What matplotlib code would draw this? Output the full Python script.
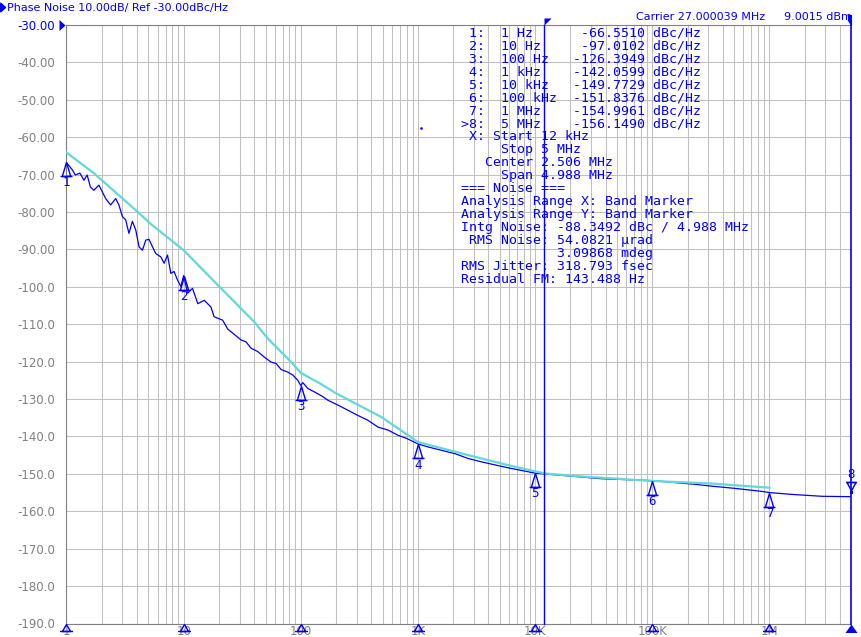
import matplotlib
matplotlib.use("Agg")
import matplotlib.pyplot as plt
from matplotlib.path import Path
from matplotlib.patches import Polygon
from matplotlib.ticker import FixedLocator, LogLocator, NullFormatter

trace_freq = [1.0, 1.12, 1.19, 1.30, 1.41, 1.50, 1.60, 1.71, 1.89, 2.16, 2.38, 2.63, 2.80,
              3.00, 3.20, 3.41, 3.65, 3.90, 4.16, 4.45, 4.75, 5.06, 5.42, 5.78, 6.38, 6.81,
              7.28, 7.77, 8.28, 8.87, 9.46, 10.0, 10.8, 11.9, 13.2, 15.0, 17.1, 18.2, 21.5,
              23.8, 27.0, 30.9, 34.0, 37.6, 42.9, 48.8, 55.7, 61.5, 67.9, 77.4, 85.5, 94.3,
              100, 104, 115, 131, 155, 170, 207, 253, 308, 375, 456, 556, 677, 798, 1000,
              1220, 1590, 2070, 2690, 3500, 4540, 5920, 7690, 10e3, 16.9e3, 37.2e3, 100e3,
              234e3, 325e3, 515e3, 871e3, 1.0e6, 1.57e6, 2.84e6, 5e6]
trace_dbc = [-66.8, -68.7, -70.1, -69.6, -71.5, -70.1, -73.3, -74.2, -72.8, -76.4, -78.1, -76.4, -78.1,
             -81.2, -82.1, -85.7, -82.5, -84.8, -89.3, -90.2, -87.5, -87.3, -89.3, -91.1, -92.0, -93.7,
             -91.5, -96.4, -95.9, -98.2, -99.9, -97.0, -101.7, -100.4, -104.5, -103.6, -105.4, -108.0, -108.9,
             -111.3, -112.7, -114.2, -114.7, -116.4, -117.3, -118.8, -120.1, -120.5, -122.1, -122.8, -123.6, -125.0,
             -126.4, -125.6, -127.2, -128.1, -129.4, -130.3, -131.6, -133.0, -134.4, -135.7, -137.5, -138.3, -139.7, -140.5, -142.0,
             -142.8, -143.7, -144.6, -145.9, -146.8, -147.6, -148.4, -149.1, -149.8, -150.4, -151.3, -151.8,
             -152.8, -153.3, -153.9, -154.7, -155.0, -155.5, -156.0, -156.1]

# smoothed reference trace (cyan)
smooth_freq = [1, 1.71, 4.03, 5.24, 10, 20.1, 40.1, 52.2, 82.7, 100, 149, 201, 487, 1000,
               2690, 6700, 12.1e3, 25.1e3, 100e3, 325e3, 1e6]
smooth_dbc = [-64.1, -69.6, -79.9, -83.2, -90.2, -99.9, -109.4, -113.8, -120.1, -123.0, -126.0,
              -128.5, -134.8, -141.5, -145.0, -148.1, -149.9, -150.7, -151.9, -152.6, -153.7]

marker_freq = [1, 10, 100, 1e3, 10e3, 100e3, 1e6, 5e6]
marker_dbc = [-66.5510, -97.0102, -126.3949, -142.0599, -149.7729, -151.8376, -154.9961, -156.1490]
marker_names = ['1 Hz', '10 Hz', '100 Hz', '1 kHz', '10 kHz', '100 kHz', '1 MHz', '5 MHz']
active_marker = 8

band_start = 12e3
band_stop = 5e6

y_ticks = list(range(-30, -191, -10))
y_labels = ['-30.00', '-40.00', '-50.00', '-60.00', '-70.00', '-80.00', '-90.00', '-100.0',
            '-110.0', '-120.0', '-130.0', '-140.0', '-150.0', '-160.0', '-170.0', '-180.0', '-190.0']
x_ticks = [1, 10, 100, 1e3, 10e3, 100e3, 1e6]
x_labels = ['1', '10', '100', '1K', '10K', '100K', '1M']

info_lines = [
    ' X: Start 12 kHz',
    '     Stop 5 MHz',
    '   Center 2.506 MHz',
    '     Span 4.988 MHz',
    '=== Noise ===',
    'Analysis Range X: Band Marker',
    'Analysis Range Y: Band Marker',
    'Intg Noise: -88.3492 dBc / 4.988 MHz',
    ' RMS Noise: 54.0821 \u00b5rad',
    '            3.09868 mdeg',
    'RMS Jitter: 318.793 fsec',
    'Residual FM: 143.488 Hz',
]

W, H = 862, 637
BLUE = '#0000ff'
GRAY = '#808080'
CYAN = '#5fd9d9'
MONO = 'DejaVu Sans Mono'


def fx(x):
    return x / W


def fy(y):
    return 1 - y / H


def px_marker(verts, codes=None):
    # marker path given in pixel units around the data point
    m = max(max(abs(a), abs(b)) for a, b in verts)
    return Path(verts, codes), 2 * m * 72 / 100


M, L = Path.MOVETO, Path.LINETO
tri_up, tri_ms = px_marker([(0, 0), (-4.2, -14), (4.2, -14), (0, 0), (-6, -14), (6, -14)],
                           [M, L, L, L, M, L])
tri_axis, tri_axis_ms = px_marker([(0, 0), (-4, -7), (4, -7), (0, 0), (-6.5, -7), (6.5, -7)],
                                  [M, L, L, L, M, L])
tri_down, tri_down_ms = px_marker([(0, 6.5), (-4.5, 15), (4.5, 15), (0, 6.5), (-5.5, 15), (5.5, 15)],
                                  [M, L, L, L, M, L])
act_sq, act_sq_ms = px_marker([(-1.5, 2.7), (1.5, 2.7), (1.5, 5.7), (-1.5, 5.7), (-1.5, 2.7)])
act_axis, act_axis_ms = px_marker([(0, 0), (-6, -8.5), (6, -8.5), (0, 0)])
flag_l, flag_l_ms = px_marker([(0, 0), (0, 7), (7, 7), (0, 0)])
flag_r, flag_r_ms = px_marker([(0, 0), (0, 10), (-3, 10), (-3, 5), (0, 0)])
ref_tri, ref_tri_ms = px_marker([(-7, 5.5), (-7, -5.5), (-1, 0), (-7, 5.5)])

fig = plt.figure(figsize=(W / 100, H / 100), dpi=100)
ax = fig.add_axes([fx(66.5), fy(623.5), (851.3 - 66.5) / W, (623.5 - 25) / H])
ax.set_xscale('log')
ax.set_xlim(1, 5e6)
ax.set_ylim(-190, -30)

ax.xaxis.set_major_locator(FixedLocator(x_ticks))
ax.xaxis.set_minor_locator(LogLocator(base=10, subs=range(2, 10), numticks=20))
ax.xaxis.set_minor_formatter(NullFormatter())
ax.set_xticklabels(x_labels)
ax.set_yticks(y_ticks)
ax.set_yticklabels(y_labels)
ax.tick_params(which='both', length=0)
ax.tick_params(axis='x', pad=1, labelcolor=GRAY, labelsize=8.5)
ax.tick_params(axis='y', pad=8, labelcolor=GRAY, labelsize=8.5)
ax.get_yticklabels()[0].set_color(BLUE)
ax.grid(which='both', color='#c0c0c0', lw=0.75)
ax.set_axisbelow(True)
for s in ['left', 'bottom', 'top']:
    ax.spines[s].set_color(GRAY)
    ax.spines[s].set_linewidth(0.8)
ax.spines['right'].set_visible(False)

# traces
ax.plot(trace_freq, trace_dbc, color=BLUE, lw=0.9, zorder=3)
ax.plot(smooth_freq, smooth_dbc, color=CYAN, lw=1.6, zorder=4)
ax.plot([1065], [-57.5], 's', color=BLUE, ms=0.8, zorder=3)

# band markers
ax.plot([band_start, band_start], [-190, -30], color=BLUE, lw=1, zorder=5, clip_on=False)
ax.plot([band_start], [-30], marker=flag_l, ms=flag_l_ms, color=BLUE, mew=0, clip_on=False, zorder=6)
ax.plot([band_stop, band_stop], [-190, -30], color=BLUE, lw=1.2, zorder=5, clip_on=False)
ax.plot([band_stop], [-30], marker=flag_r, ms=flag_r_ms, color=BLUE, mew=0.8, clip_on=False, zorder=6)
ax.plot([1], [-30], marker=ref_tri, ms=ref_tri_ms, color=BLUE, mew=0, clip_on=False)

# trace markers
for i, (f, v) in enumerate(zip(marker_freq, marker_dbc), start=1):
    if i == active_marker:
        ax.plot([f], [v], marker=tri_down, ms=tri_down_ms, mfc='none', mec=BLUE, mew=1,
                clip_on=False, zorder=7)
        ax.plot([f], [v], marker=act_sq, ms=act_sq_ms, color=BLUE, mew=0, clip_on=False, zorder=7)
        ax.annotate(str(i), (f, v), xytext=(0, 16), textcoords='offset points', ha='center',
                    va='center', family=MONO, size=9, color=BLUE, annotation_clip=False)
        ax.plot([f], [-190], marker=act_axis, ms=act_axis_ms, color=BLUE, mew=0, clip_on=False, zorder=7)
    else:
        ax.plot([f], [v], marker=tri_up, ms=tri_ms, mfc='none', mec=BLUE, mew=1,
                clip_on=False, zorder=7)
        ax.annotate(str(i), (f, v), xytext=(0, -15), textcoords='offset points', ha='center',
                    va='center', family=MONO, size=9, color=BLUE, annotation_clip=False)
        ax.plot([f], [-190], marker=tri_axis, ms=tri_axis_ms, mfc='none', mec=BLUE, mew=1,
                clip_on=False, zorder=7)

# header texts
fig.patches.append(Polygon([(fx(0.5), fy(3)), (fx(0.5), fy(12)), (fx(5.5), fy(7.5))],
                           closed=True, color=BLUE, transform=fig.transFigure))
fig.text(fx(7), fy(7.5), 'Phase Noise 10.00dB/ Ref -30.00dBc/Hz', color=BLUE, size=8,
         va='center', ha='left')
fig.text(fx(636), fy(17.5), 'Carrier 27.000039 MHz', color=BLUE, size=8, va='center', ha='left')
fig.text(fx(784), fy(17.5), '9.0015 dBm', color=BLUE, size=8, va='center', ha='left')

# marker table
row = 0
for i, (name, v) in enumerate(zip(marker_names, marker_dbc), start=1):
    idx = ('>' if i == active_marker else ' ') + f'{i}:'
    line = f'{idx}  {name:<9}{v:>9.4f} dBc/Hz'
    fig.text(fx(461.5), fy(32.7 + 13 * row), line, family=MONO, size=9.5, color=BLUE,
             va='center', ha='left')
    row += 1
for line in info_lines:
    fig.text(fx(461.5), fy(32.7 + 13 * row), line, family=MONO, size=9.5, color=BLUE,
             va='center', ha='left')
    row += 1

fig.savefig('out.png', dpi=100)
